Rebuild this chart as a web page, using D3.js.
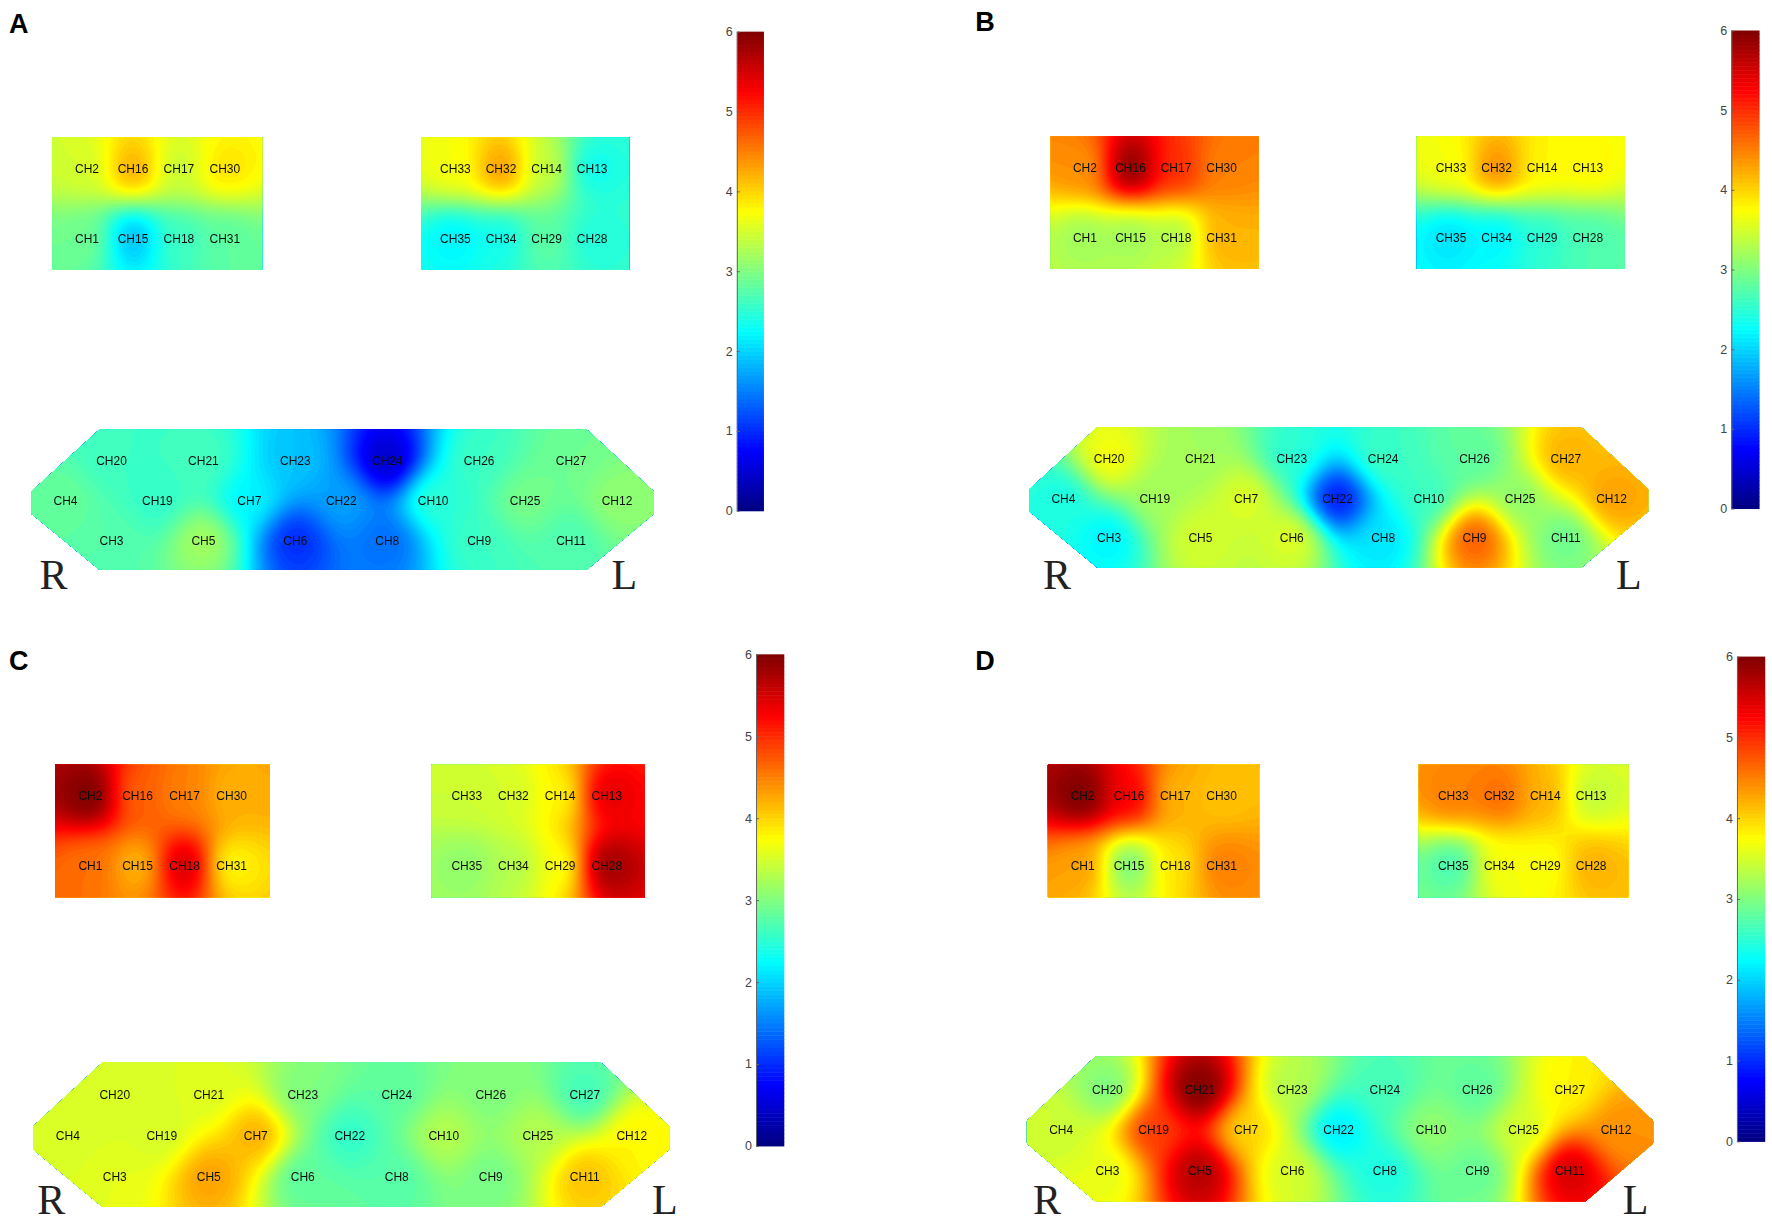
<!DOCTYPE html>
<html>
<head>
<meta charset="utf-8">
<script src="https://d3js.org/d3.v7.min.js"></script>
<style>
  html, body { margin: 0; padding: 0; background: #fff; }
  svg { display: block; }
</style>
</head>
<body>
<div id="my_dataviz"></div>
<script>
// channel names, laid out as on the probe
const leftRows = [["CH2", "CH16", "CH17", "CH30"], ["CH1", "CH15", "CH18", "CH31"]];
const rightRows = [["CH33", "CH32", "CH14", "CH13"], ["CH35", "CH34", "CH29", "CH28"]];
const frontRows = [
  ["CH20", "CH21", "CH23", "CH24", "CH26", "CH27"],
  ["CH4", "CH19", "CH7", "CH22", "CH10", "CH25", "CH12"],
  ["CH3", "CH5", "CH6", "CH8", "CH9", "CH11"]
];
const barTicks = [0, 1, 2, 3, 4, 5, 6];

// values, index 0 = CH1 ... index 34 = CH35
const valuesA = [2.9, 3.5, 2.75, 2.85, 3.2, 1.0, 2.2, 1.4, 2.6, 2.5, 2.7, 3.1, 2.35, 3.4, 1.9, 4.2, 3.45, 2.6, 2.55, 2.6, 2.65, 1.7, 1.9, 0.45, 2.95, 2.6, 2.9, 2.45, 2.8, 3.9, 2.8, 4.3, 3.7, 2.35, 2.2];
const valuesB = [3.2, 4.4, 2.2, 2.4, 3.5, 3.55, 3.55, 2.1, 4.7, 2.6, 2.9, 4.3, 3.8, 3.8, 3.2, 5.9, 5.0, 3.3, 3.2, 3.7, 3.2, 0.9, 2.5, 2.6, 3.1, 2.8, 4.2, 2.7, 2.5, 4.5, 4.2, 4.4, 3.7, 2.2, 2.1];
const valuesC = [4.6, 6.0, 3.6, 3.5, 4.3, 2.8, 4.2, 2.75, 2.95, 3.3, 4.1, 3.8, 5.4, 3.8, 4.2, 4.7, 4.5, 5.5, 3.5, 3.5, 3.55, 2.55, 3.0, 2.8, 3.3, 3.0, 2.65, 5.8, 3.7, 4.2, 3.8, 3.5, 3.45, 3.3, 3.1];
const valuesD = [4.3, 6.0, 3.6, 3.45, 5.7, 3.5, 4.0, 2.4, 2.85, 3.1, 5.5, 4.4, 3.4, 4.2, 3.0, 5.3, 4.2, 3.9, 4.9, 3.0, 6.0, 2.15, 3.3, 2.65, 3.5, 2.8, 3.8, 4.2, 3.7, 4.1, 4.5, 4.6, 4.5, 3.7, 2.7];

// panel geometry, measured at 1568 wide
const k = 1772 / 1568;
const panels = [
  { letter: "A", values: valuesA, letterAt: [8, 29], left: [77, 199], right: [403, 524], topY: [149, 211], front: [58, 546], frontY: [408, 478], bar: [652, 676], barY: [452, 28], R: [35, 521], L: [541, 521] },
  { letter: "B", values: valuesB, letterAt: [863, 27], left: [960, 1081], right: [1284, 1405], topY: [148, 210], front: [941, 1426], frontY: [406, 476], bar: [1532, 1557], barY: [450, 27], R: [923, 521], L: [1430, 521] },
  { letter: "C", values: valuesC, letterAt: [8, 593], left: [80, 205], right: [413, 537], topY: [704, 766], front: [60, 559], frontY: [969, 1041], bar: [669, 694], barY: [1014, 579], R: [33, 1074], L: [577, 1074] },
  { letter: "D", values: valuesD, letterAt: [863, 593], left: [958, 1081], right: [1286, 1408], topY: [704, 766], front: [939, 1430], frontY: [964, 1036], bar: [1537, 1562], barY: [1010, 581], R: [914, 1074], L: [1436, 1074] }
];

// outlines in probe units (column, row)
const rectOutline = [[-0.75, -0.44], [3.81, -0.44], [3.81, 1.45], [-0.75, 1.45]];
const frontOutline = [[0.74, -0.8], [11.34, -0.8], [12.8, 0.77], [12.8, 1.33], [11.34, 2.75], [0.74, 2.75], [-0.74, 1.33], [-0.74, 0.77]];

// matlab jet
const jet = d3.scaleLinear()
  .domain([0, 0.75, 2.25, 3.75, 5.25, 6])
  .range(["#00007f", "#0000ff", "#00ffff", "#ffff00", "#ff0000", "#7f0000"])
  .clamp(true);

const levelStep = 0.05;
const levels = d3.range(0, 6, levelStep);
const cell = 2;
const shepardPower = 3.4;
const blurCells = 4;

var svg = d3.select("#my_dataviz")
  .append("svg")
  .attr("width", 1772)
  .attr("height", 1223);

svg.append("defs").append("filter")
  .attr("id", "soft")
  .append("feGaussianBlur")
  .attr("stdDeviation", 0.45);

// inverse distance field, stays between the channel values so no overshoot at the edges
function shepard(points) {
  return (x, y) => {
    let sw = 0, sv = 0;
    for (const p of points) {
      const d = Math.hypot(x - p.x, y - p.y);
      if (d < 0.01) return p.value;
      const w = Math.pow(d, -shepardPower);
      sw += w;
      sv += w * p.value;
    }
    return sv / sw;
  };
}

let clipId = 0;

function drawRegion(g, points, outline) {
  const field = shepard(points);
  const x0 = Math.floor(d3.min(outline, d => d[0])) - 2 * cell;
  const x1 = Math.ceil(d3.max(outline, d => d[0])) + 2 * cell;
  const y0 = Math.floor(d3.min(outline, d => d[1])) - 2 * cell;
  const y1 = Math.ceil(d3.max(outline, d => d[1])) + 2 * cell;
  const nx = Math.ceil((x1 - x0) / cell);
  const ny = Math.ceil((y1 - y0) / cell);

  const grid = new Float64Array(nx * ny);
  for (let j = 0; j < ny; j++) {
    for (let i = 0; i < nx; i++) {
      grid[j * nx + i] = field(x0 + (i + 0.5) * cell, y0 + (j + 0.5) * cell);
    }
  }
  // takes the bullseyes off the spots
  d3.blur2({ data: grid, width: nx, height: ny }, blurCells);
  for (let i = 0; i < grid.length; i++) grid[i] = Math.max(0, Math.min(5.999, grid[i]));

  const contours = d3.contours().size([nx, ny]).thresholds(levels)(grid);
  const path = d3.geoPath(d3.geoIdentity().scale(cell).translate([x0, y0]));
  const id = "clip" + (clipId++);

  g.append("clipPath").attr("id", id)
    .append("polygon")
    .attr("points", outline.map(d => d.join(",")).join(" "));

  // lowest level paints the whole patch, the rest stack on top
  g.append("g")
    .attr("clip-path", "url(#" + id + ")")
    .selectAll("path")
    .data(contours.filter(c => c.coordinates.length))
    .join("path")
    .attr("d", path)
    .attr("fill", c => jet(c.value + levelStep / 2));
}

function drawLabels(g, points) {
  g.append("g")
    .attr("filter", "url(#soft)")
    .selectAll("text")
    .data(points)
    .join("text")
    .attr("x", d => d.x)
    .attr("y", d => d.y)
    .attr("dy", "0.36em")
    .attr("text-anchor", "middle")
    .attr("font-family", "Liberation Sans")
    .attr("font-size", 12)
    .attr("fill", "#111")
    .text(d => d.name);
}

function pointsFrom(rows, col, row, values, colOf) {
  const out = [];
  rows.forEach((names, r) => names.forEach((name, c) => {
    out.push({ name: name, x: col(colOf(r, c)), y: row(r), value: values[+name.slice(2) - 1] });
  }));
  return out;
}

panels.forEach(p => {
  const g = svg.append("g");
  const leftX = d3.scaleLinear().domain([0, 3]).range(p.left.map(d => d * k));
  const rightX = d3.scaleLinear().domain([0, 3]).range(p.right.map(d => d * k));
  const topY = d3.scaleLinear().domain([0, 1]).range(p.topY.map(d => d * k));
  const frontX = d3.scaleLinear().domain([0, 12]).range(p.front.map(d => d * k));
  const frontY = d3.scaleLinear().domain([0, 2]).range(p.frontY.map(d => d * k));

  const regions = [
    { rows: leftRows, x: leftX, y: topY, outline: rectOutline, colOf: (r, c) => c },
    { rows: rightRows, x: rightX, y: topY, outline: rectOutline, colOf: (r, c) => c },
    // middle row of the front patch sits half a step to the left
    { rows: frontRows, x: frontX, y: frontY, outline: frontOutline, colOf: (r, c) => r === 1 ? c * 2 : c * 2 + 1 }
  ];

  regions.forEach(r => {
    const pts = pointsFrom(r.rows, r.x, r.y, p.values, r.colOf);
    drawRegion(g, pts, r.outline.map(d => [r.x(d[0]), r.y(d[1])]));
    drawLabels(g, pts);
  });

  // colour bar
  const barY = d3.scaleLinear().domain([0, 6]).range(p.barY.map(d => d * k));
  const barX0 = p.bar[0] * k;
  const barX1 = p.bar[1] * k;
  g.append("g")
    .selectAll("rect")
    .data(levels)
    .join("rect")
    .attr("x", barX0)
    .attr("width", barX1 - barX0)
    .attr("y", d => barY(d + levelStep))
    .attr("height", d => barY(d) - barY(d + levelStep) + 0.5)
    .attr("fill", d => jet(d + levelStep / 2));

  const axis = g.append("g")
    .attr("transform", "translate(" + barX0 + ",0)")
    .call(d3.axisLeft(barY).tickValues(barTicks).tickFormat(d3.format("d")).tickSizeInner(-3).tickSizeOuter(0).tickPadding(4));
  axis.selectAll("path, line").attr("stroke", "#666");
  axis.selectAll("text")
    .attr("font-family", "Liberation Sans")
    .attr("font-size", 12.5)
    .attr("fill", "#444");

  // panel letter and side marks
  g.append("text")
    .attr("x", p.letterAt[0] * k)
    .attr("y", p.letterAt[1] * k)
    .attr("font-family", "Liberation Sans")
    .attr("font-weight", "bold")
    .attr("font-size", 27)
    .text(p.letter);

  [["R", p.R], ["L", p.L]].forEach(m => {
    g.append("text")
      .attr("x", m[1][0] * k)
      .attr("y", m[1][1] * k)
      .attr("font-family", "Liberation Serif")
      .attr("font-size", 42)
      .attr("fill", "#222")
      .text(m[0]);
  });
});
</script>
</body>
</html>
